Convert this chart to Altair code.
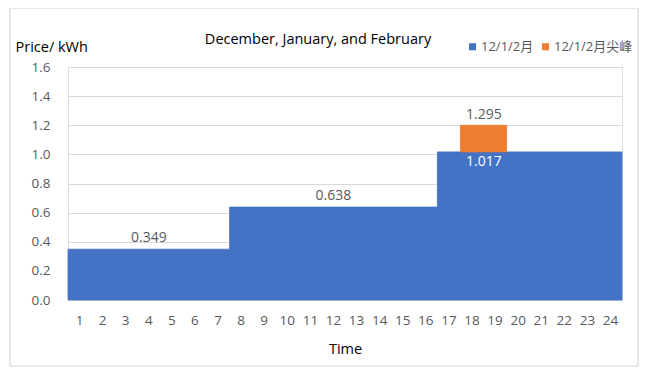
import altair as alt
import pandas as pd

hours = list(range(1, 25))
base_prices = [0.349] * 7 + [0.638] * 9 + [1.017] * 8
peak_hours = [18, 19]
peak_bottom = [1.017, 1.017]
peak_top = [1.2, 1.2]

label_hours = [4, 12]
label_values = [0.349, 0.638]
label_texts = ["0.349", "0.638"]

y_ticks = [0, 0.2, 0.4, 0.6, 0.8, 1.0, 1.2, 1.4, 1.6]

series_base = "12/1/2月"
series_peak = "12/1/2月尖峰"
title_text = "December, January, and February"

FONT = "Open Sans, Noto Sans CJK SC, sans-serif"
GREY = "#595959"
BLUE = "#4472C4"
ORANGE = "#ED7D31"

base_df = pd.DataFrame({"hour": hours, "price": base_prices, "series": series_base})
peak_df = pd.DataFrame({"hour": peak_hours, "lo": peak_bottom, "hi": peak_top, "series": series_peak})
lab_df = pd.DataFrame({"hour": label_hours, "price": label_values, "text": label_texts})
peak_lab_df = pd.DataFrame({"hour": [18], "price": [1.2], "text": ["1.295"]})
base_lab_df = pd.DataFrame({"hour": [18], "price": [1.017], "text": ["1.017"]})

xscale = alt.Scale(domain=hours, paddingInner=0, paddingOuter=0)
yscale = alt.Scale(domain=[0, 1.6])
color = alt.Color(
    "series:N",
    scale=alt.Scale(domain=[series_base, series_peak], range=[BLUE, ORANGE]),
    legend=alt.Legend(
        title=None, orient="none", direction="horizontal", legendX=398, legendY=-27,
        symbolType="square", symbolSize=50, symbolStrokeWidth=0, labelFontSize=13,
        labelColor=GREY, labelFont=FONT, columnPadding=5, symbolOffset=0, labelOffset=2,
    ),
)

xenc = alt.X(
    "hour:O", scale=xscale,
    axis=alt.Axis(title="Time", labelAngle=0, ticks=False, domain=False, labelPadding=13,
                  labelFontSize=13.5, labelColor=GREY, labelFont=FONT, titleFont=FONT,
                  titleFontSize=14.5, titleColor="#000000", titleFontWeight="normal", titlePadding=16),
)
yaxis = alt.Axis(values=y_ticks, format=".1f", ticks=False, labelOverlap=False,
                 domain=False, gridColor="#d9d9d9", labelPadding=18, labelFontSize=13.5,
                 labelColor=GREY, labelFont=FONT, title="Price/ kWh", titleAngle=0,
                 titleAlign="left", titleBaseline="middle", titleX=-53, titleY=-20,
                 titleFont=FONT, titleFontSize=14.5, titleColor="#000000", titleFontWeight="normal")

border = alt.Chart(pd.DataFrame({"a": [0]})).mark_rect(fill=None, stroke="#d0d0d0", strokeWidth=1).encode(
    x=alt.value(-58), x2=alt.value(570), y=alt.value(-59), y2=alt.value(299)
)

title = alt.Chart(pd.DataFrame({"t": [title_text]})).mark_text(
    font=FONT, fontSize=14.5, color="#000000", align="center", baseline="middle"
).encode(x=alt.value(250), y=alt.value(-27), text="t:N")

bars = alt.Chart(base_df).mark_bar(stroke=BLUE, strokeWidth=0.8).encode(
    x=xenc,
    y=alt.Y("price:Q", scale=yscale, axis=yaxis),
    color=color,
)

peak = alt.Chart(peak_df).mark_bar(stroke=ORANGE, strokeWidth=0.8).encode(
    x=alt.X("hour:O", scale=xscale), y=alt.Y("lo:Q", scale=yscale, axis=yaxis), y2="hi:Q", color=color
)

labels = alt.Chart(lab_df).mark_text(font=FONT, fontSize=14, color=GREY, baseline="bottom", dy=-4).encode(
    x=alt.X("hour:O", scale=xscale), y=alt.Y("price:Q", scale=yscale, axis=yaxis), text="text:N"
)
peak_lab = alt.Chart(peak_lab_df).mark_text(font=FONT, fontSize=14, color=GREY, baseline="bottom", dy=-3, dx=12).encode(
    x=alt.X("hour:O", scale=xscale), y=alt.Y("price:Q", scale=yscale, axis=yaxis), text="text:N"
)
base_lab = alt.Chart(base_lab_df).mark_text(font=FONT, fontSize=14, color="#ffffff", baseline="top", dy=3, dx=12).encode(
    x=alt.X("hour:O", scale=xscale), y=alt.Y("price:Q", scale=yscale, axis=yaxis), text="text:N"
)

chart = alt.layer(border, bars, peak, labels, peak_lab, base_lab, title).properties(
    width=554, height=233,
    autosize=alt.AutoSizeParams(type="none"),
    padding={"left": 60, "top": 59, "right": 17, "bottom": 70},
).configure_view(stroke=None).configure(background="#ffffff")

chart.save("out.html", embed_options={"renderer": "svg", "actions": False})
